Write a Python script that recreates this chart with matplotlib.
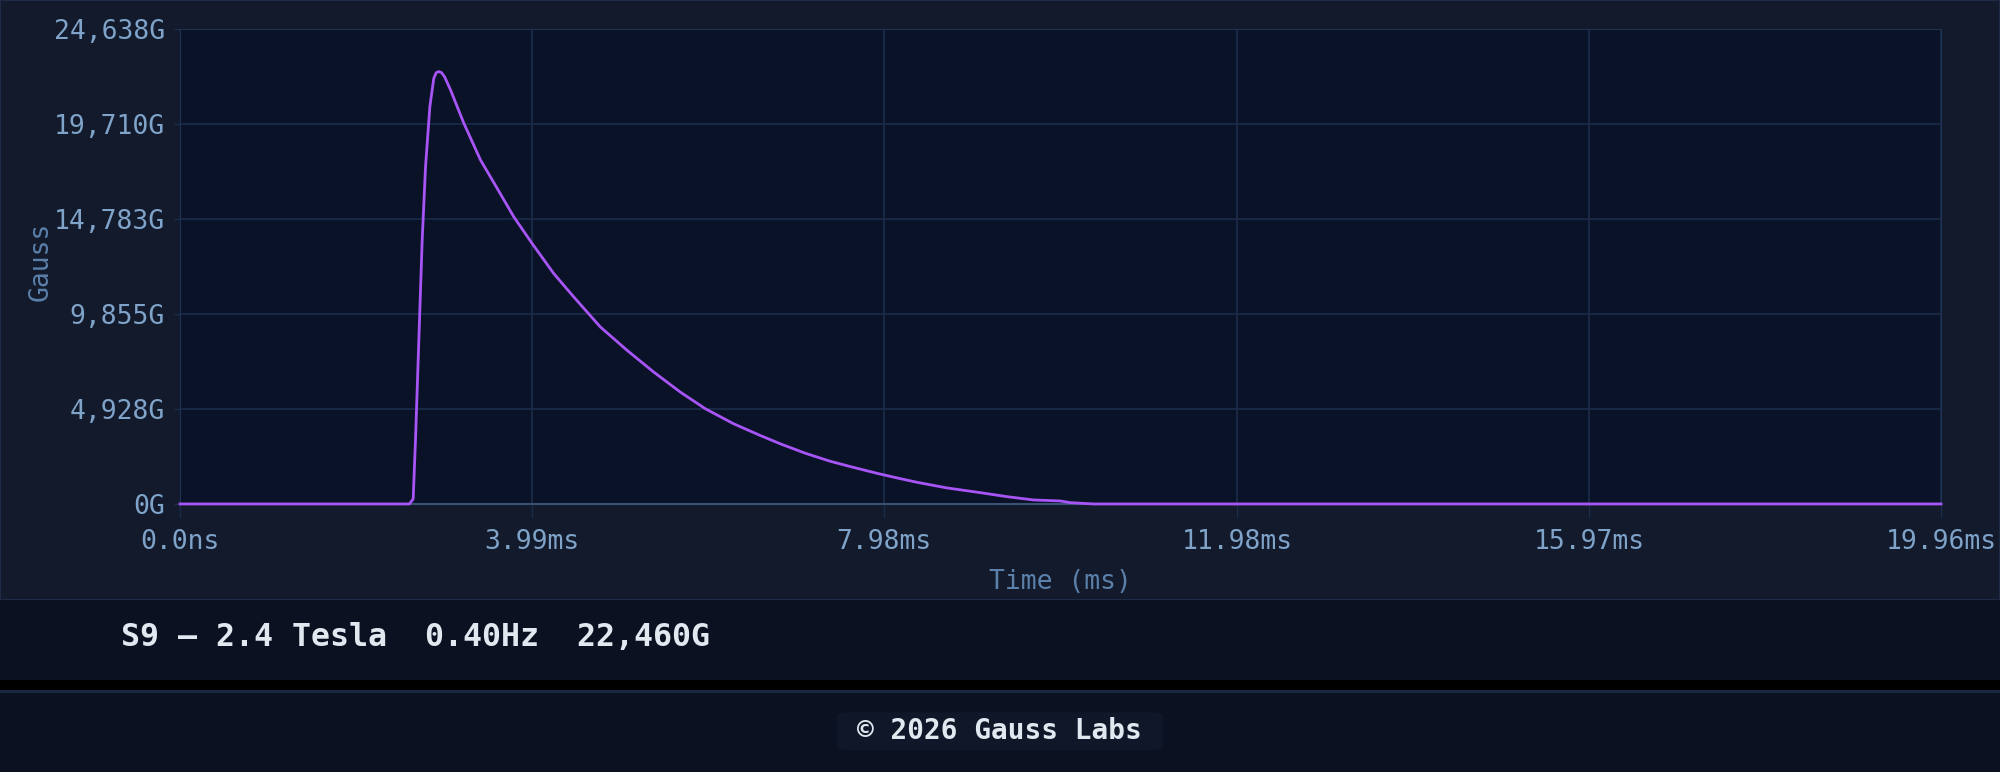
import matplotlib
matplotlib.use("Agg")
import matplotlib.pyplot as plt
from matplotlib.patches import Rectangle, FancyBboxPatch
from matplotlib.ticker import FixedLocator

# pulse trace (time in ms, field in gauss)
t_ms = [0.0, 2.60, 2.643, 2.669, 2.707, 2.745, 2.783, 2.832, 2.877, 2.905, 2.934,
        2.964, 3.00, 3.066, 3.217, 3.406, 3.595, 3.783, 3.991, 4.236, 4.463, 4.765,
        5.068, 5.370, 5.672, 5.955, 6.276, 6.578, 6.805, 7.088, 7.371, 7.598, 7.900,
        8.127, 8.354, 8.693, 9.071, 9.373, 9.675, 9.977, 10.09, 10.355, 19.96]
gauss = [0, 0, 260, 3290, 8488, 13686, 17496, 20615, 22091, 22380, 22430,
         22380, 22150, 21483, 19751, 17844, 16373, 14897, 13514, 11955, 10739, 9179,
         7968, 6840, 5800, 4938, 4158, 3550, 3119, 2630, 2214, 1939, 1590,
         1351, 1123, 832, 587, 379, 208, 156, 68, 0, 0]

x_ticks = [0.0, 3.99, 7.98, 11.98, 15.97, 19.96]
x_labels = ["0.0ns", "3.99ms", "7.98ms", "11.98ms", "15.97ms", "19.96ms"]
y_ticks = [0, 4928, 9855, 14783, 19710, 24638]
y_labels = ["0G", "4,928G", "9,855G", "14,783G", "19,710G", "24,638G"]

caption = "S9 \u2014 2.4 Tesla  0.40Hz  22,460G"
footer = "\u00a9 2026 Gauss Labs"

mono = ["DejaVu Sans Mono"]
tick_col = "#7fa3c9"
label_col = "#5b80aa"
grid_col = "#1b2d4a"

fig = plt.figure(figsize=(20, 7.72), dpi=100)
fig.patch.set_facecolor("#0b1120")

# background bands
fig.patches.append(Rectangle((0, 0.2228), 1, 0.7772, transform=fig.transFigure,
                             facecolor="#121a2b", edgecolor="#1e2c45", lw=1.5, zorder=-2))
fig.patches.append(Rectangle((0, 0.1192), 1, 0.1036, transform=fig.transFigure,
                             facecolor="#0b1120", edgecolor="none", zorder=-2))
fig.patches.append(Rectangle((0, 0.1062), 1, 0.013, transform=fig.transFigure,
                             facecolor="#000000", edgecolor="none", zorder=-2))
fig.patches.append(Rectangle((0, 0), 1, 0.1062, transform=fig.transFigure,
                             facecolor="#0b1120", edgecolor="none", zorder=-2))
fig.lines.append(plt.Line2D([0, 1], [0.1055, 0.1055], transform=fig.transFigure,
                            color="#1a2a44", lw=2, zorder=-1))

ax = fig.add_axes([0.09, 0.3472, 0.8805, 0.6152])
ax.set_zorder(2)
ax.set_facecolor("#0a1227")
ax.plot(t_ms, gauss, color="#a855f7", lw=2.0, zorder=3, clip_on=False,
        solid_joinstyle="round")

ax.set_xlim(0, 19.96)
ax.set_ylim(0, 24638)
ax.xaxis.set_major_locator(FixedLocator(x_ticks))
ax.yaxis.set_major_locator(FixedLocator(y_ticks))
ax.set_xticklabels(x_labels, family=mono, fontsize=19, color=tick_col)
ax.set_yticklabels(y_labels, family=mono, fontsize=19, color=tick_col)
ax.tick_params(axis="x", length=10, width=1, color=grid_col, pad=8)
ax.tick_params(axis="y", length=4, width=1, color=grid_col, pad=7)
ax.grid(True, color=grid_col, lw=1.2)
ax.set_axisbelow(True)
for s in ["top", "left", "right"]:
    ax.spines[s].set_color("#1e3252")
ax.spines["bottom"].set_color("#3a5274")
ax.spines["bottom"].set_linewidth(1.5)

ax.set_xlabel("Time (ms)", family=mono, fontsize=19, color=label_col, labelpad=10)
ax.set_ylabel("Gauss", family=mono, fontsize=19, color=label_col, va="center")
ax.yaxis.set_label_coords(-0.079, 0.51)

fig.text(0.0605, 0.1736, caption, family=mono, fontsize=22.8, fontweight="bold",
         color="#e2e8f0", ha="left", va="center")

fig.patches.append(FancyBboxPatch((0.4185, 0.0285), 0.163, 0.049,
                                  boxstyle="round,pad=0,rounding_size=0.006",
                                  transform=fig.transFigure, facecolor="#0f1729",
                                  edgecolor="none", zorder=1))
fig.text(0.4995, 0.0531, footer, family=mono, fontsize=20, fontweight="bold",
         color="#e2e8f0", ha="center", va="center")

fig.savefig("out.png", dpi=100, facecolor=fig.get_facecolor())
